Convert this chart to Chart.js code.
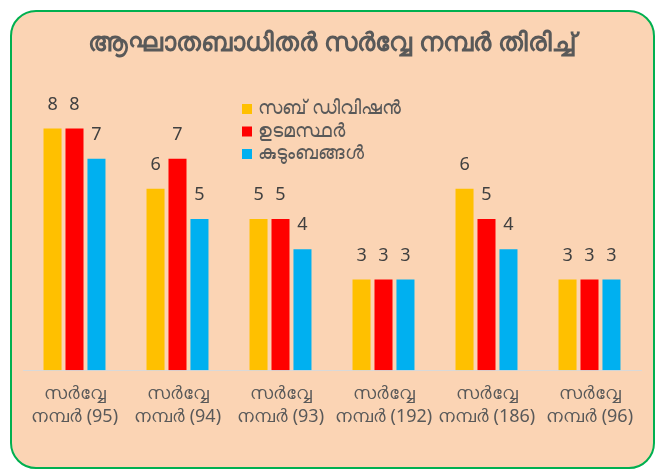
<!DOCTYPE html>
<html>
<head>
<meta charset="utf-8">
<script src="https://cdn.jsdelivr.net/npm/chart.js@4.4.1/dist/chart.umd.min.js"></script>
<style>
  html, body { margin: 0; padding: 0; background: #ffffff; }
  #card {
    position: absolute; left: 10px; top: 10px; width: 641px; height: 455px;
    border: 2px solid #00b050; border-radius: 26px; background: #fbd4b4;
  }
  #wrap { position: absolute; left: 0; top: 0; width: 663px; height: 470px; }
</style>
</head>
<body>
<div id="card"></div>
<div id="wrap"><canvas id="chart" width="663" height="470"></canvas></div>
<script>
const TITLE = "ആഘാതബാധിതർ സർവ്വേ നമ്പർ തിരിച്ച്";
const surveyLabels = [
  ["സർവ്വേ", "നമ്പർ (95)"],
  ["സർവ്വേ", "നമ്പർ (94)"],
  ["സർവ്വേ", "നമ്പർ (93)"],
  ["സർവ്വേ", "നമ്പർ (192)"],
  ["സർവ്വേ", "നമ്പർ (186)"],
  ["സർവ്വേ", "നമ്പർ (96)"],
];
const seriesNames = ["സബ് ഡിവിഷൻ", "ഉടമസ്ഥർ", "കുടുംബങ്ങൾ"];
const subDivisions = [8, 6, 5, 3, 6, 3];
const owners = [8, 7, 5, 3, 5, 3];
const families = [7, 5, 4, 3, 4, 3];
const seriesColors = ["#ffc000", "#ff0000", "#00b0f0"];

const FONT = "'Noto Sans', 'DejaVu Sans', sans-serif";
const TEXT = "#595959";

// values above bars (no datalabels plugin available offline)
const valueLabels = {
  id: "valueLabels",
  afterDatasetsDraw(chart) {
    const ctx = chart.ctx;
    ctx.save();
    ctx.font = "18px " + FONT;
    ctx.fillStyle = "#404040";
    ctx.textAlign = "center";
    ctx.textBaseline = "middle";
    chart.data.datasets.forEach((ds, i) => {
      chart.getDatasetMeta(i).data.forEach((bar, j) => {
        ctx.fillText(String(ds.data[j]), bar.x, bar.y - 24);
      });
    });
    ctx.restore();
  },
};

// legend sits inside the plot, stacked
const innerLegend = {
  id: "innerLegend",
  afterDraw(chart) {
    const ctx = chart.ctx;
    const x = 242, y0 = 109, step = 22.5;
    ctx.save();
    ctx.font = "19px " + FONT;
    ctx.textBaseline = "middle";
    ctx.textAlign = "left";
    chart.data.datasets.forEach((ds, i) => {
      const y = y0 + i * step;
      ctx.fillStyle = ds.backgroundColor;
      ctx.fillRect(x, y - 5, 10, 10);
      ctx.fillStyle = TEXT;
      ctx.fillText(ds.label, x + 16, y);
    });
    ctx.restore();
  },
};

const datasets = [subDivisions, owners, families].map((data, i) => ({
  label: seriesNames[i],
  data: data,
  backgroundColor: seriesColors[i],
  borderWidth: 0,
  categoryPercentage: 0.64,
  barPercentage: 0.82,
}));

new Chart(document.getElementById("chart"), {
  type: "bar",
  data: { labels: surveyLabels, datasets: datasets },
  options: {
    responsive: false,
    animation: false,
    layout: { padding: { left: 23, right: 22, top: 0, bottom: 29 } },
    plugins: {
      legend: { display: false },
      tooltip: { enabled: false },
      title: {
        display: true,
        text: TITLE,
        color: TEXT,
        font: { family: FONT, size: 26, weight: "bold", lineHeight: 1.2 },
        padding: { top: 28, bottom: 39 },
      },
    },
    scales: {
      x: {
        grid: { display: false, drawTicks: false },
        border: { display: true, color: "#d9d9d9", width: 1 },
        ticks: {
          color: TEXT,
          padding: 12,
          maxRotation: 0,
          autoSkip: false,
          font: { family: FONT, size: 18, lineHeight: 1.3 },
        },
      },
      y: { display: false, min: 0, max: 9 },
    },
  },
  plugins: [valueLabels, innerLegend],
});
</script>
</body>
</html>
